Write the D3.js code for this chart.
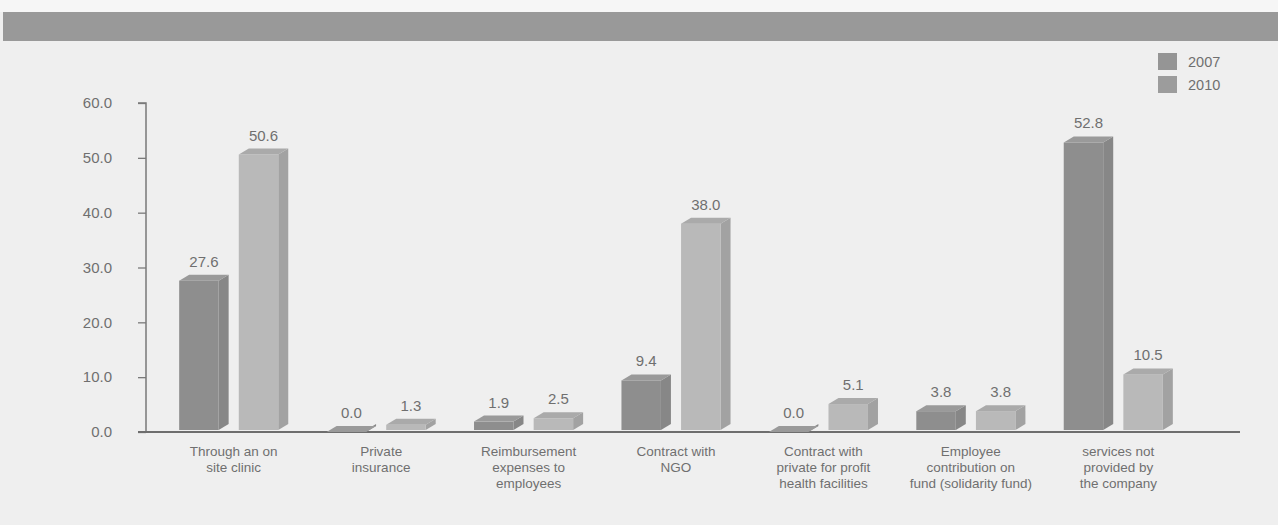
<!DOCTYPE html>
<html>
<head>
<meta charset="utf-8">
<script src="https://cdn.jsdelivr.net/npm/d3@7/dist/d3.min.js"></script>
<style>
  html, body { margin: 0; padding: 0; background: #efefef; }
  svg { display: block; }
  text { font-family: "Liberation Sans", Arial, sans-serif; fill: #6f6f6f; }
</style>
</head>
<body>
<svg id="chart" width="1278" height="525"></svg>
<script>
// ---- data ----
const categories = [
  ["Through an on", "site clinic"],
  ["Private", "insurance"],
  ["Reimbursement", "expenses to", "employees"],
  ["Contract with", "NGO"],
  ["Contract with", "private for profit", "health facilities"],
  ["Employee", "contribution on", "fund (solidarity fund)"],
  ["services not", "provided by", "the company"]
];
const seriesNames = ["2007", "2010"];
const values2007 = [27.6, 0.0, 1.9, 9.4, 0.0, 3.8, 52.8];
const values2010 = [50.6, 1.3, 2.5, 38.0, 5.1, 3.8, 10.5];
const yTicks = [0, 10, 20, 30, 40, 50, 60];

// ---- layout ----
const svg = d3.select("#chart");
const W = 1278, H = 525;
svg.append("rect").attr("x", 0).attr("y", 0).attr("width", W).attr("height", H).attr("fill", "#efefef");
svg.append("rect").attr("x", 0).attr("y", 0).attr("width", W).attr("height", 12).attr("fill", "#f6f6f6");
svg.append("rect").attr("x", 3).attr("y", 12).attr("width", W - 3).attr("height", 29).attr("fill", "#999999");

const axisX = 146, y0px = 432, y60px = 103;
const y = d3.scaleLinear().domain([0, 60]).range([y0px, y60px]);
const x0 = d3.scaleBand().domain(d3.range(categories.length)).range([160, 1192]).paddingInner(0.26).paddingOuter(0.13);
const x1 = d3.scaleBand().domain(seriesNames).range([0, x0.bandwidth()]).paddingInner(0.17);

const colors = {
  "2007": { front: "#8e8e8e", top: "#9a9a9a", side: "#878787" },
  "2010": { front: "#b9b9b9", top: "#aaaaaa", side: "#a2a2a2" }
};

// ---- y axis ----
const yAxis = d3.axisLeft(y).tickValues(yTicks).tickFormat(d3.format(".1f")).tickSize(8).tickPadding(26);
const gy = svg.append("g").attr("transform", `translate(${axisX},0)`).call(yAxis);
gy.select(".domain").attr("stroke", "#7a7a7a").attr("stroke-width", 1.5).attr("d", `M-8,${y(60)}H0V${y(0)}`);
gy.selectAll(".tick line").attr("stroke", "#7a7a7a").attr("stroke-width", 1.3);
gy.selectAll(".tick text").attr("font-size", 15).style("fill", "#6f6f6f").attr("font-family", "Liberation Sans, Arial, sans-serif");

// ---- x axis ----
svg.append("line").attr("x1", axisX - 8).attr("x2", 1240).attr("y1", y(0)).attr("y2", y(0))
  .attr("stroke", "#6e6e6e").attr("stroke-width", 2);

// ---- bars ----
const data = [];
categories.forEach((c, i) => {
  data.push({ i, s: "2007", v: values2007[i] });
  data.push({ i, s: "2010", v: values2010[i] });
});
const dx = 10, dy = 6;
const g = svg.append("g");
data.forEach(d => {
  const bx = x0(d.i) + x1(d.s);
  const fw = x1.bandwidth() - dx;
  const yt = y(d.v), yb = y(0) - 2;
  const c = colors[d.s];
  g.append("polygon")
    .attr("points", [[bx + fw, yt], [bx + fw + dx, yt - dy], [bx + fw + dx, yb - dy], [bx + fw, yb]].map(p => p.join(",")).join(" "))
    .attr("fill", c.side);
  g.append("rect").attr("x", bx).attr("y", yt).attr("width", fw).attr("height", Math.max(0, yb - yt)).attr("fill", c.front);
  g.append("polygon")
    .attr("points", [[bx, yt], [bx + dx, yt - dy], [bx + fw + dx, yt - dy], [bx + fw, yt]].map(p => p.join(",")).join(" "))
    .attr("fill", c.top);
  g.append("text").attr("x", bx + (fw + dx) / 2).attr("y", yt - dy - 8)
    .attr("text-anchor", "middle").attr("font-size", 15).text(d3.format(".1f")(d.v));
});

// ---- category labels ----
categories.forEach((lines, i) => {
  const cx = x0(i) + x0.bandwidth() / 2;
  const t = svg.append("text").attr("text-anchor", "middle").attr("font-size", 13.5);
  lines.forEach((ln, k) => {
    t.append("tspan").attr("x", cx).attr("y", 456 + k * 16).text(ln);
  });
});

// ---- legend ----
const legend = svg.append("g");
seriesNames.forEach((s, k) => {
  legend.append("rect").attr("x", 1158).attr("y", 53 + k * 23).attr("width", 19).attr("height", 17)
    .attr("fill", k === 0 ? "#959595" : "#9c9c9c");
  legend.append("text").attr("x", 1188).attr("y", 67 + k * 23).attr("font-size", 14.5).text(s);
});
</script>
</body>
</html>
